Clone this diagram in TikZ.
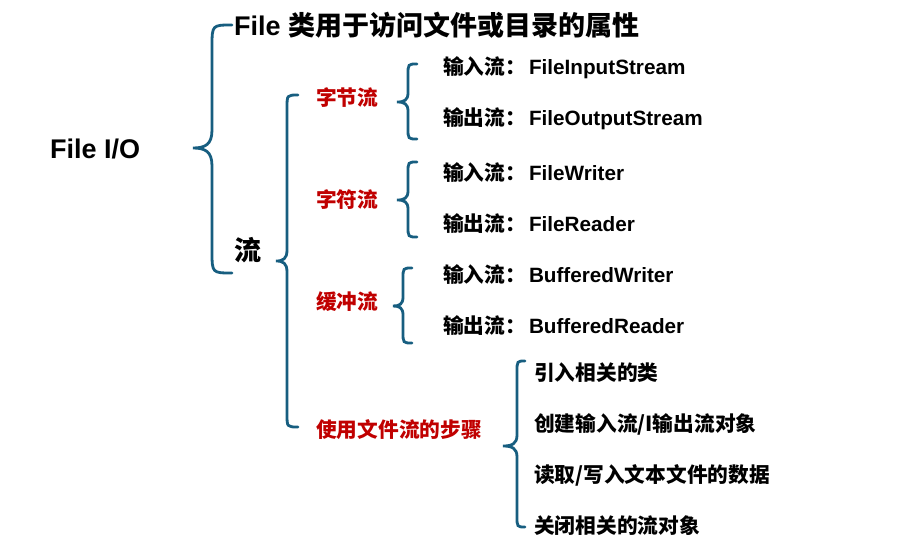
\documentclass[tikz,border=0pt]{standalone}
\usepackage{fontspec}
\setmainfont{Liberation Sans}
\newfontfamily\cjk{Noto Sans CJK SC}
\newcommand{\zh}[1]{{\cjk\bfseries #1}}
\newcommand{\cl}{\zh{：}\hspace{3pt}}
\definecolor{bracecol}{RGB}{23,94,128}
\definecolor{redtxt}{RGB}{192,0,0}
\newcommand{\cbrace}[8]{%
  \draw[bracestyle] (#1,#4) .. controls (#2,#4) .. ({#2},{#4+#7}) -- ({#2},{#5-#8})
    .. controls ({#2},{#5-0.2*#8}) and ({#2-0.35*(#2-#3)},{#5}) .. (#3,#5)
    .. controls ({#2-0.35*(#2-#3)},{#5}) and ({#2},{#5+0.2*#8}) .. ({#2},{#5+#8})
    -- ({#2},{#6-#7}) .. controls (#2,#6) .. (#1,#6);}
\begin{document}
\begin{tikzpicture}[x=1pt,y=-1pt,
  bracestyle/.style={draw=bracecol,line width=2.8pt,line cap=round},
  bigtxt/.style={anchor=west,inner sep=0pt,font=\bfseries\fontsize{27}{30}\selectfont},
  redlabel/.style={anchor=west,inner sep=0pt,text=redtxt,font=\bfseries\fontsize{20.7}{24}\selectfont},
  item/.style={anchor=west,inner sep=0pt,font=\bfseries\fontsize{20.7}{24}\selectfont}]
\useasboundingbox (0,0) rectangle (903,554);
% braces
\cbrace{232}{212}{193}{25}{148}{273}{22}{18}
\cbrace{298}{287}{276}{95}{261}{427}{13}{11}
\cbrace{417}{408}{397}{64}{102}{139}{11}{9}
\cbrace{417}{408}{397}{162}{200}{237}{11}{9}
\cbrace{412}{403}{393}{268}{306}{343}{11}{9}
\cbrace{525}{517}{503}{361}{446}{527}{11}{11}
% texts
\node[bigtxt] (root) at (50,149) {File I/O};
\node[bigtxt] (file) at (234,25) {File \zh{类用于访问文件或目录的属性}};
\node[bigtxt] (liu) at (234,250) {\zh{流}};
\node[redlabel] (byte) at (316,98) {\zh{字节流}};
\node[redlabel] (char) at (316,200) {\zh{字符流}};
\node[redlabel] (buf) at (316,302) {\zh{缓冲流}};
\node[redlabel] (steps) at (316,430) {\zh{使用文件流的步骤}};
\node[item] (b1) at (443,68) {\zh{输入流}\cl FileInputStream};
\node[item] (b2) at (443,119) {\zh{输出流}\cl FileOutputStream};
\node[item] (c1) at (443,173) {\zh{输入流}\cl FileWriter};
\node[item] (c2) at (443,224) {\zh{输出流}\cl FileReader};
\node[item] (u1) at (443,275) {\zh{输入流}\cl BufferedWriter};
\node[item] (u2) at (443,326) {\zh{输出流}\cl BufferedReader};
\node[item] (s1) at (534,373) {\zh{引入相关的类}};
\node[item] (s2) at (534,424) {\zh{创建输入流/I输出流对象}};
\node[item] (s3) at (534,475) {\zh{读取/写入文本文件的数据}};
\node[item] (s4) at (534,526) {\zh{关闭相关的流对象}};
\end{tikzpicture}
\end{document}
